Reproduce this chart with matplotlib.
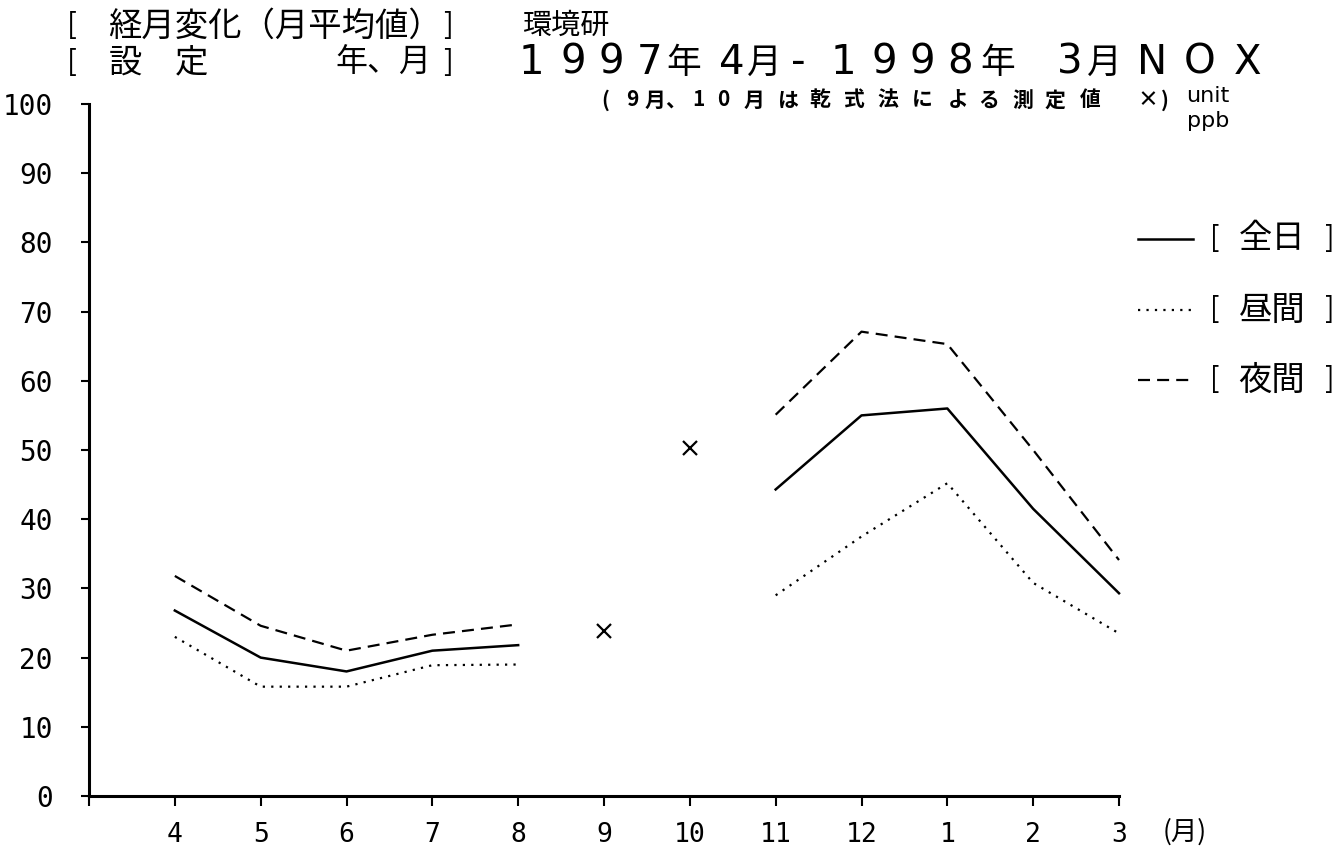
import numpy as np
import matplotlib
matplotlib.use("Agg")
import matplotlib.pyplot as plt
from matplotlib.lines import Line2D

# NOx monthly means, April 1997 - March 1998 (ppb)
months = ["4", "5", "6", "7", "8", "9", "10", "11", "12", "1", "2", "3"]
all_day = [26.8, 20.0, 18.0, 21.0, 21.8, np.nan, np.nan, 44.3, 55.0, 56.0, 41.5, 29.3]
daytime = [23.0, 15.8, 15.8, 18.9, 19.0, np.nan, np.nan, 29.0, 37.5, 45.2, 30.8, 23.5]
nighttime = [31.8, 24.6, 21.0, 23.3, 24.8, np.nan, np.nan, 55.1, 67.1, 65.3, 50.0, 34.1]
series_names = ["全日", "昼間", "夜間"]

# September and October were measured with the dry method
dry_months = ["9", "10"]
dry_values = [23.8, 50.3]

y_ticks = list(range(0, 101, 10))

W, H = 1342, 851
fig = plt.figure(figsize=(W / 100, H / 100), dpi=100)
fig.patch.set_facecolor("white")

CJK = ["Noto Sans CJK JP", "DejaVu Sans"]
MONO = "DejaVu Sans Mono"


def fx(x):
    return x / W


def fy(y):
    return 1 - y / H


def put(x, y, s, size, family=CJK, ha="center", weight="normal"):
    fig.text(fx(x), fy(y), s, fontsize=size, family=family, ha=ha, va="center",
             weight=weight, color="black")


# plotting area
left, right, top, bottom = 89, 1119, 104, 796
ax = fig.add_axes([fx(left), fy(bottom), (right - left) / W, (bottom - top) / H])
ax.set_facecolor("white")

xpos = np.arange(1, len(months) + 1)
idx = {m: i + 1 for i, m in enumerate(months)}

styles = {
    "全日": dict(ls="-", lw=1.8),
    "昼間": dict(ls=(0, (1, 2.8)), lw=1.6),
    "夜間": dict(ls=(0, (5.4, 3.2)), lw=1.6),
}
for name, vals in zip(series_names, [all_day, daytime, nighttime]):
    ax.plot(xpos, vals, color="black", clip_on=False, **styles[name])

ax.plot([idx[m] for m in dry_months], dry_values, ls="none", marker="x",
        ms=9.5, mew=1.6, color="black", clip_on=False)

ax.set_xlim(0, 12)
ax.set_ylim(0, 100)
for side in ("top", "right"):
    ax.spines[side].set_visible(False)
for side in ("left", "bottom"):
    ax.spines[side].set_linewidth(2.2)
    ax.spines[side].set_color("black")

ax.set_xticks([0] + list(xpos))
ax.set_xticklabels([""] + months, family=MONO, fontsize=19)
ax.tick_params(axis="x", direction="out", length=7, width=1.5, pad=12)
ax.set_yticks(y_ticks)
ax.set_yticklabels([str(v) for v in y_ticks], family=MONO, fontsize=20)
ax.tick_params(axis="y", direction="out", length=6, width=1.5, pad=20)

put(1185, 832, "(月)", 19)

# title, first row
put(72, 26, "[", 21)
put(108, 26, "経月変化（月平均値）", 24, ha="left")
put(448, 26, "]", 21)
put(522, 26, "環境研", 21, ha="left")

# title, second row
put(72, 63, "[", 21)
put(125, 63, "設", 24)
put(192, 63, "定", 24)
put(335, 63, "年、月", 23, ha="left")
put(448, 63, "]", 21)
title_glyphs = [("1", 531), ("9", 573), ("9", 611), ("7", 650), ("年", 684),
                ("4", 732), ("月", 764), ("-", 798),
                ("1", 843), ("9", 884), ("9", 922), ("8", 960), ("年", 998),
                ("3", 1070), ("月", 1104),
                ("N", 1152), ("O", 1200), ("X", 1248)]
for ch, x in title_glyphs:
    if ch in "年月":
        put(x, 63, ch, 25)
    else:
        put(x, 63, ch, 29, family="DejaVu Sans")

# note about the dry-method months
note = [("(", 605), ("9", 632), ("月", 655), ("、", 676), ("1", 698), ("0", 723),
        ("月", 754), ("は", 788), ("乾", 820), ("式", 854), ("法", 888), ("に", 922),
        ("よ", 958), ("る", 989), ("測", 1023), ("定", 1055), ("値", 1090),
        ("×", 1148), (")", 1165)]
for ch, x in note:
    put(x, 100, ch, 15, weight="bold")

put(1208, 96, "unit", 16, family="DejaVu Sans")
put(1208, 121, "ppb", 16, family="DejaVu Sans")

# legend
legend_rows = [239, 310, 380]
for name, y in zip(series_names, legend_rows):
    st = styles[name]
    fig.add_artist(Line2D([fx(1138), fx(1193)], [fy(y), fy(y)], color="black",
                          ls=st["ls"], lw=st["lw"]))
    put(1215, y, "[", 20)
    put(1272, y, name, 24)
    put(1330, y, "]", 20)

fig.savefig("out.png", dpi=100, facecolor="white")
